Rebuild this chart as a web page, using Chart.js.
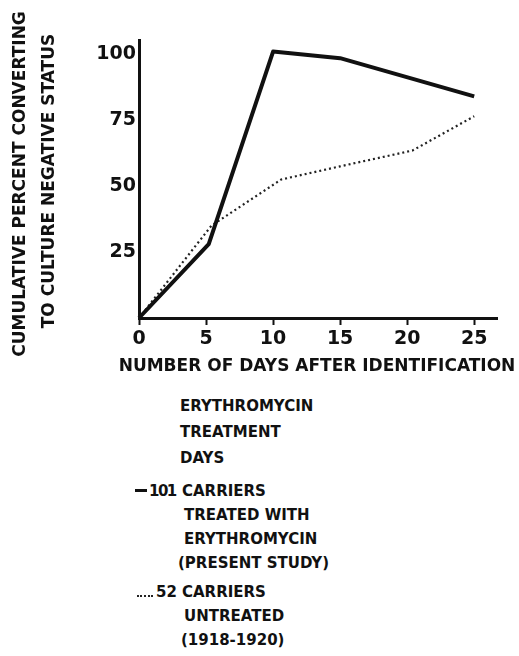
<!DOCTYPE html>
<html>
<head>
<meta charset="utf-8">
<script src="https://cdn.jsdelivr.net/npm/chart.js@4.4.1/dist/chart.umd.min.js"></script>
<style>
  html, body { margin: 0; padding: 0; background: #fff; }
  #wrap { position: relative; width: 519px; height: 656px; overflow: hidden; background: #fff; }
  #c { position: absolute; left: 0; top: 0; }
  .t { position: absolute; font-family: "DejaVu Sans", sans-serif; font-weight: bold; color: #111; white-space: nowrap; line-height: 1; }
  .ytitle { font-size: 17px; transform: translate(-50%, -50%) rotate(-90deg); }
  .xtitle { font-size: 17px; transform: translateX(-50%); }
  .lg { font-size: 15px; }
  .solid { position: absolute; height: 0; border-top: 3px solid #111; }
  .dots { position: absolute; height: 0; border-top: 2px dotted #222; }
</style>
</head>
<body>
<div id="wrap">
  <canvas id="c" width="519" height="380"></canvas>

  <div class="t ytitle" style="left:19px; top:184px;">CUMULATIVE PERCENT CONVERTING</div>
  <div class="t ytitle" style="left:48px; top:181px;">TO CULTURE NEGATIVE STATUS</div>
  <div class="t xtitle" style="left:317px; top:357px;">NUMBER OF DAYS AFTER IDENTIFICATION</div>

  <div class="t lg" style="left:180px; top:399px;">ERYTHROMYCIN</div>
  <div class="t lg" style="left:180px; top:425px;">TREATMENT</div>
  <div class="t lg" style="left:180px; top:451px;">DAYS</div>

  <div class="solid" style="left:135px; top:489px; width:12px;"></div>
  <div class="t lg" style="left:149px; top:484px; letter-spacing:-1.5px;">101</div>
  <div class="t lg" style="left:182px; top:484px;">CARRIERS</div>
  <div class="t lg" style="left:184px; top:508px;">TREATED WITH</div>
  <div class="t lg" style="left:184px; top:532px;">ERYTHROMYCIN</div>
  <div class="t lg" style="left:178px; top:556px;">(PRESENT STUDY)</div>

  <div class="dots" style="left:137px; top:595px; width:16px;"></div>
  <div class="t lg" style="left:156px; top:585px;">52</div>
  <div class="t lg" style="left:182px; top:585px;">CARRIERS</div>
  <div class="t lg" style="left:184px; top:609px;">UNTREATED</div>
  <div class="t lg" style="left:181px; top:633px;">(1918-1920)</div>
</div>

<script>
// ---- data ----
const dayTicks = [0, 5, 10, 15, 20, 25];
const percentTicks = [25, 50, 75, 100];

const treatedDays    = [0, 5.2, 10, 15, 25];
const treatedPercent = [0, 28, 101, 98.5, 84];

const untreatedDays    = [0, 5.4, 10.6, 15, 20.4, 25];
const untreatedPercent = [0, 35, 52.5, 57.5, 63.5, 76.5];

const seriesNames = ['101 carriers treated with erythromycin (present study)',
                     '52 carriers untreated (1918-1920)'];

function pts(xs, ys) { return xs.map((x, i) => ({ x: x, y: ys[i] })); }

const tickFont = { family: 'DejaVu Sans', weight: 'bold', size: 19 };

new Chart(document.getElementById('c'), {
  type: 'line',
  data: {
    datasets: [
      {
        label: seriesNames[0],
        data: pts(treatedDays, treatedPercent),
        borderColor: '#111',
        borderWidth: 4,
        pointRadius: 0,
        tension: 0,
        fill: false,
        clip: false,
        borderJoinStyle: 'round'
      },
      {
        label: seriesNames[1],
        data: pts(untreatedDays, untreatedPercent),
        borderColor: '#222',
        borderWidth: 2.2,
        borderDash: [2, 3],
        pointRadius: 0,
        tension: 0,
        fill: false,
        clip: false
      }
    ]
  },
  options: {
    responsive: false,
    animation: false,
    devicePixelRatio: 1,
    layout: { padding: { left: 0, right: 22, top: 40, bottom: 0 } },
    plugins: { legend: { display: false }, tooltip: { enabled: false } },
    scales: {
      x: {
        type: 'linear',
        min: 0,
        max: 26.7,
        afterBuildTicks: (s) => { s.ticks = dayTicks.map(v => ({ value: v })); },
        afterFit: (s) => { s.height = 62; },
        ticks: { color: '#111', font: tickFont, padding: 3, maxRotation: 0, autoSkip: false },
        grid: { display: true, drawOnChartArea: false, drawTicks: true, tickLength: 7, tickWidth: 2, tickColor: '#111' },
        border: { display: true, color: '#111', width: 3 }
      },
      y: {
        min: 0,
        max: 105.4,
        afterBuildTicks: (s) => { s.ticks = percentTicks.map(v => ({ value: v })); },
        afterFit: (s) => { s.width = 139; },
        ticks: { color: '#111', font: tickFont, padding: 3 },
        grid: { display: true, drawOnChartArea: false, drawTicks: false },
        border: { display: true, color: '#111', width: 3 }
      }
    }
  }
});
</script>
</body>
</html>
